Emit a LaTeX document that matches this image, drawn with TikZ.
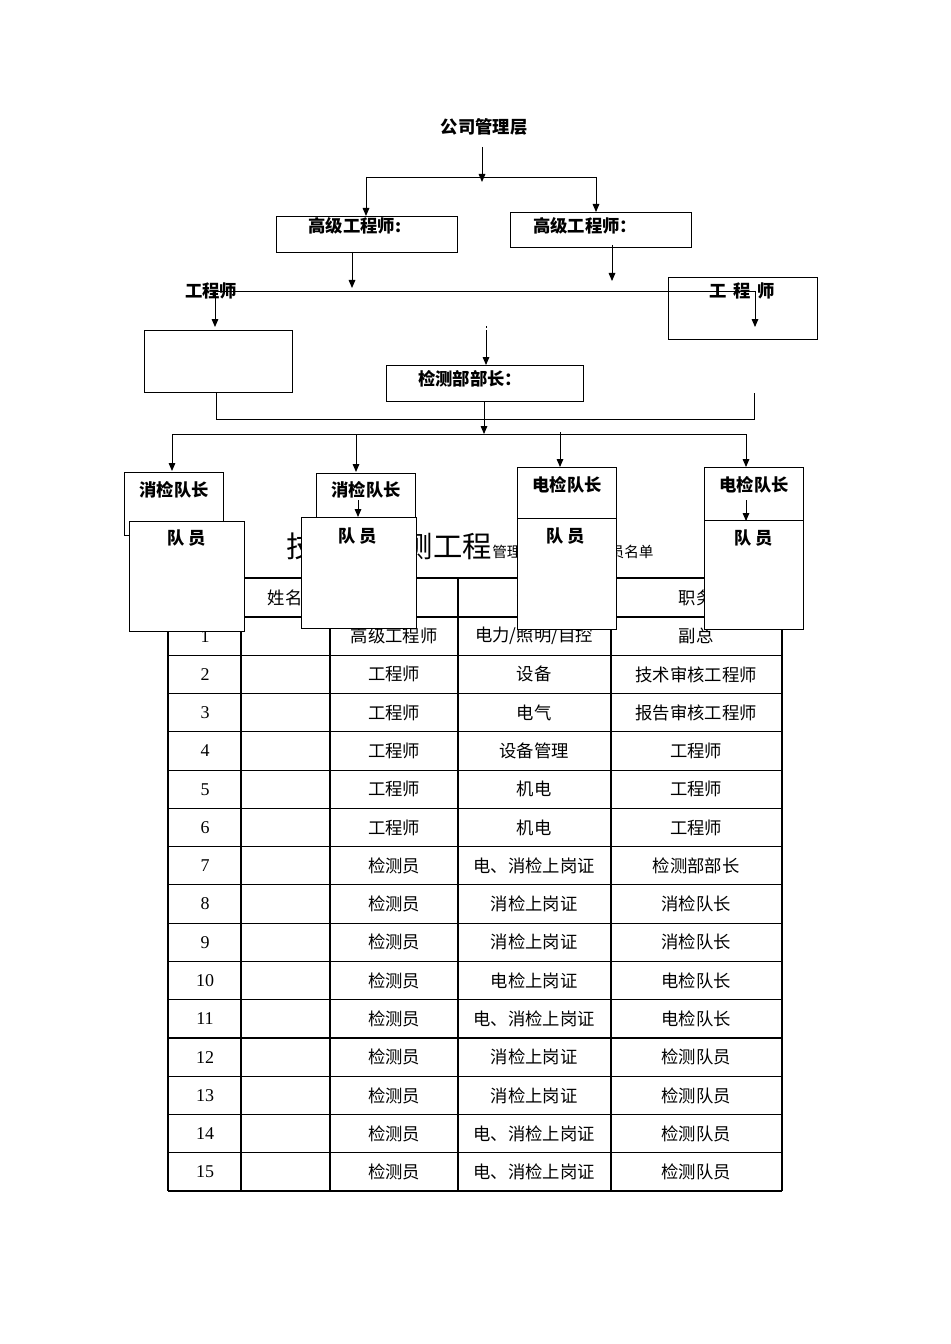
\documentclass[tikz,border=0pt]{standalone}
\usepackage{fontspec}
\setmainfont{Noto Sans CJK SC}
\newfontfamily\numf{Liberation Serif}
\usetikzlibrary{arrows.meta}
\begin{document}
\begin{tikzpicture}[x=0.75pt,y=-0.75pt,
 box/.style={draw,fill=white,line width=0.8pt},
 arr/.style={-{Triangle[length=6pt,width=5pt]},line width=0.7pt},
 ln/.style={line width=0.7pt},
 lbl/.style={font=\bfseries\fontsize{13}{15}\selectfont,inner sep=0pt},
 cell/.style={font=\fontsize{13}{15}\selectfont,inner sep=0pt}]
\useasboundingbox[fill=white] (0,0) rectangle (950,1344);
% ---------- table (underneath) ----------
\node[inner sep=0pt,anchor=base east,font=\fontsize{22}{24}\selectfont] (ttl) at (492,557) {技术性检测工程};
\node[inner sep=0pt,anchor=base west,font=\fontsize{11}{13}\selectfont] (ttl2) at (492,557) {管理人员及技术人员名单};
\foreach \i in {0,...,15}{\draw[line width=0.8pt] (168,{617+38.27*\i}) -- (782,{617+38.27*\i});}
\draw[line width=2pt] (168,578) -- (782,578);
\draw[line width=1.6pt] (168,578) -- (168,1191);
\draw[line width=1.6pt] (782,578) -- (782,1191);
\foreach \x in {241,330,458,611}{\draw[line width=0.8pt] (\x,578) -- (\x,1191);}
\draw[line width=1.6pt] (168,1191) -- (782,1191);
\node[cell] (h1) at (205,598) {序号};
\node[cell] (h2) at (285,598) {姓名};
\node[cell] (h3) at (394,598) {职称};
\node[cell] (h4) at (534,598) {专业};
\node[cell] (h5) at (696,598) {职务};
\foreach \n/\a/\b/\c in {
 1/高级工程师/{电力/照明/自控}/副总,
 2/工程师/设备/技术审核工程师,
 3/工程师/电气/报告审核工程师,
 4/工程师/设备管理/工程师,
 5/工程师/机电/工程师,
 6/工程师/机电/工程师,
 7/检测员/电、消检上岗证/检测部部长,
 8/检测员/消检上岗证/消检队长,
 9/检测员/消检上岗证/消检队长,
 10/检测员/电检上岗证/电检队长,
 11/检测员/电、消检上岗证/电检队长,
 12/检测员/消检上岗证/检测队员,
 13/检测员/消检上岗证/检测队员,
 14/检测员/电、消检上岗证/检测队员,
 15/检测员/电、消检上岗证/检测队员}{
 \pgfmathsetmacro\yy{617+38.27*(\n-0.5)}
 \node[cell,font=\numf\fontsize{13.5}{15}\selectfont] (n\n) at (205,\yy) {\n};
 \node[cell] (a\n) at (394,\yy) {\a};
 \node[cell] (b\n) at (534,\yy) {\b};
 \node[cell] (c\n) at (696,\yy) {\c};
}
% ---------- org chart ----------
\node[lbl] (top) at (484,127) {公司管理层};
\coordinate (t1) at (482,147);
\coordinate (t2) at (482,182);
\draw[arr] (t1) -- (t2);
\coordinate (hl) at (366,177); \coordinate (hr) at (596,177);
\draw[ln] (hl) -- (hr);
\node[box,minimum width=181*0.75pt,minimum height=36*0.75pt,anchor=north west] (se1) at (276,216) {};
\node[box,minimum width=181*0.75pt,minimum height=35*0.75pt,anchor=north west] (se2) at (510,212) {};
\draw[arr] (hl) -- (hl|-se1.north);
\draw[arr] (hr) -- (hr|-se2.north);
\node[lbl] (se1t) at (355,226) {高级工程师:};
\node[lbl] (se2t) at (585,226) {高级工程师：};
\coordinate (a1) at (352,288); \coordinate (a2) at (612,245); \coordinate (a3) at (612,281);
\draw[arr] (352,252) -- (a1);
\draw[arr] (a2) -- (a3);
\node[box,minimum width=149*0.75pt,minimum height=62*0.75pt,anchor=north west] (er) at (668,277) {};
\node[box,minimum width=148*0.75pt,minimum height=62*0.75pt,anchor=north west] (el) at (144,330) {};
\node[lbl] (elt) at (211,291) {工程师};
\node[lbl] (ert) at (742,291) {工\ \,程\ \,师};
\coordinate (ll) at (215,291); \coordinate (lr) at (755,291);
\draw[ln] (ll) -- (lr);
\draw[arr] (ll) -- (215,327);
\draw[arr] (lr) -- (755,327);
\node[box,minimum width=197*0.75pt,minimum height=36*0.75pt,anchor=north west] (dep) at (386,365) {};
\node[lbl] (dept) at (470,379) {检测部部长：};
\draw[ln] (486,326) -- (486,328);
\draw[arr] (486,330) -- (dep.north-|486,0);
\coordinate (b1) at (216,419); \coordinate (b2) at (754,419);
\draw[ln] (216,393) -- (b1) -- (b2) -- (754,393);
\coordinate (c0) at (484,434);
\draw[arr] (484,401) -- (c0);
\coordinate (cl) at (172,434); \coordinate (cr) at (746,434);
\draw[ln] (cl) -- (cr);
% leaders
\node[box,minimum width=99*0.75pt,minimum height=63*0.75pt,anchor=north west] (L1) at (124,472) {};
\node[box,minimum width=99*0.75pt,minimum height=62*0.75pt,anchor=north west] (L2) at (316,473) {};
\node[box,minimum width=99*0.75pt,minimum height=51*0.75pt,anchor=north west] (L3) at (517,467) {};
\node[box,minimum width=99*0.75pt,minimum height=53*0.75pt,anchor=north west] (L4) at (704,467) {};
\draw[arr] (cl) -- (172,471);
\draw[arr] (356,434) -- (356,472);
\draw[arr] (560,432) -- (560,467);
\draw[arr] (cr) -- (746,467);
\node[lbl] (L1t) at (174,490) {消检队长};
\node[lbl] (L2t) at (366,490) {消检队长};
\node[lbl] (L3t) at (567,485) {电检队长};
\node[lbl] (L4t) at (754,485) {电检队长};
\draw[arr] (358,500) -- (358,517);
\draw[arr] (746,500) -- (746,521);
% members
\node[box,minimum width=115*0.75pt,minimum height=110*0.75pt,anchor=north west] (M1) at (129,521) {};
\node[box,minimum width=115*0.75pt,minimum height=111*0.75pt,anchor=north west] (M2) at (301,517) {};
\node[box,minimum width=99*0.75pt,minimum height=111*0.75pt,anchor=north west] (M3) at (517,518) {};
\node[box,minimum width=99*0.75pt,minimum height=109*0.75pt,anchor=north west] (M4) at (704,520) {};
\node[lbl] (M1t) at (187,538) {队\ 员};
\node[lbl] (M2t) at (358,536) {队\ 员};
\node[lbl] (M3t) at (566,536) {队\ 员};
\node[lbl] (M4t) at (754,538) {队\ 员};
\end{tikzpicture}
\end{document}
